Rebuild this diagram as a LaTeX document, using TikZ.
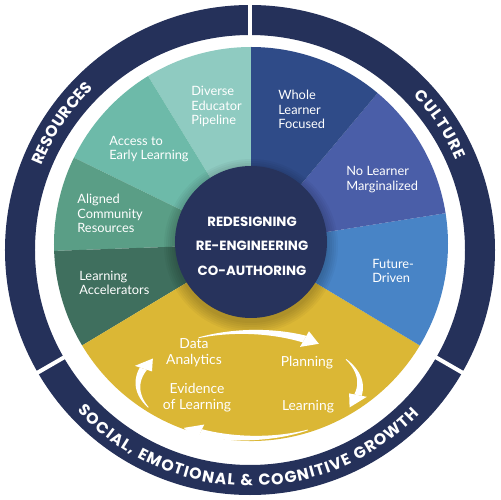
\documentclass[tikz,border=0pt]{standalone}
\usepackage{fontspec}
\setmainfont{Lato}
\newfontfamily\headfont{Poppins}
\usetikzlibrary{decorations.text}

\definecolor{ringnavy}{HTML}{25315A}
\definecolor{hubnavy}{HTML}{27335C}
\definecolor{tealA}{HTML}{8FCBC1}
\definecolor{tealB}{HTML}{6DBAA9}
\definecolor{tealC}{HTML}{5A9E86}
\definecolor{tealD}{HTML}{3F6F5E}
\definecolor{blueA}{HTML}{2F4B88}
\definecolor{blueB}{HTML}{4A5EA8}
\definecolor{blueC}{HTML}{4884C6}
\definecolor{goldY}{HTML}{DBB735}

% tapered white arrow on the cycle ellipse: start, head base, tip angle
\newcommand\cyclearrow[3]{%
  \fill[white] plot[domain=0:1, samples=30, variable=\p]
      ({-1+(111.4+3.4*\p)*cos((#1)+((#2)-(#1))*\p)}, {-135+(53.4+3.4*\p)*sin((#1)+((#2)-(#1))*\p)})
    -- plot[domain=0:1, samples=30, variable=\p]
      ({-1+(107.2+3.4*\p)*cos((#2)+((#1)-(#2))*\p)}, {-135+(49.2+3.4*\p)*sin((#2)+((#1)-(#2))*\p)})
    -- cycle;
  \fill[white] ({-1+120*cos(#2)},{-135+62*sin(#2)})
    -- ({-1+111*cos(#3)},{-135+53*sin(#3)})
    -- ({-1+102*cos(#2)},{-135+44*sin(#2)}) -- cycle;
}

\tikzset{
  segtext/.style={text=white, font=\fontsize{7.3}{8.2}\selectfont, align=left, inner sep=0pt, anchor=west},
  cycletext/.style={text=white, font=\fontsize{7.9}{9.1}\selectfont, align=center, inner sep=0pt},
  hubtext/.style={text=white, font=\headfont\bfseries\fontsize{7.6}{13.9}\selectfont, align=center, inner sep=0pt},
}

\begin{document}
\begin{tikzpicture}[x=0.02cm, y=0.02cm]
  \useasboundingbox (-250,-250) rectangle (250,250);
  \coordinate (ring) at (0,0);
  \coordinate (wheel) at (1,6);
  \coordinate (hub) at (1,8);

  % Drawing outer ring
  \fill[ringnavy, even odd rule] (ring) circle (245) (ring) circle (215);
  \foreach \a in {90,210,330}
    \draw[white, line width=0.08cm] (\a:212) -- (\a:248);

  % Ring texts
  \path[decorate, decoration={text along path, text color=white, text align=fit to path,
      text={|\headfont\bfseries\fontsize{9}{10}\selectfont|RESOURCES}}]
    (158:225) arc[start angle=158, end angle=134, radius=225];
  \path[decorate, decoration={text along path, text color=white, text align=fit to path,
      text={|\headfont\bfseries\fontsize{9}{10}\selectfont|CULTURE}}]
    (43.5:225) arc[start angle=43.5, end angle=23.5, radius=225];
  \path[decorate, decoration={text along path, text color=white, text align=fit to path,
      text={|\headfont\bfseries\fontsize{9}{10}\selectfont|SOCIAL, EMOTIONAL {\&} COGNITIVE GROWTH}}]
    (223:236) arc[start angle=223, end angle=316, radius=236];

  % Drawing wheel sectors
  \foreach \s/\e/\c in {90/121.5/tealA, 121.5/154/tealB, 154/182/tealC, 182/211/tealD,
                        211/329/goldY, 329/369/blueC, 9/50/blueB, 50/90/blueA}
    \fill[\c] (wheel) -- ++(\s:197) arc[start angle=\s, end angle=\e, radius=197] -- cycle;

  % Shadow and hub
  \foreach \r in {77,79,...,87}
    \fill[black, opacity=0.035] (1,4) circle (\r);
  \fill[hubnavy] (hub) circle (76);
  \node[hubtext] (hubtitle) at (2,4) {REDESIGNING\\RE-ENGINEERING\\CO-AUTHORING};

  % Sector labels
  \node[segtext] (pipeline) at (-59,143.5) {Diverse\\Educator\\Pipeline};
  \node[segtext] (early) at (-141,101) {Access to\\Early Learning};
  \node[segtext] (community) at (-173,36.5) {Aligned\\Community\\Resources};
  \node[segtext] (accel) at (-171,-33) {Learning\\Accelerators};
  \node[segtext] (whole) at (28,140.5) {Whole\\Learner\\Focused};
  \node[segtext] (marginal) at (96,70.5) {No Learner\\Marginalized};
  \node[segtext] (future) at (122,-21) {Future-\\Driven};

  % Cycle labels and arrows
  \node[cycletext] (data) at (-56,-103) {Data\\Analytics};
  \node[cycletext] (planning) at (57,-113) {Planning};
  \node[cycletext] (learning) at (58,-157) {Learning};
  \node[cycletext] (evidence) at (-53,-148) {Evidence\\of Learning};
  \cyclearrow{117}{60}{51}
  \cyclearrow{29}{-11}{-25}
  \cyclearrow{-58}{-116}{-126}
  \cyclearrow{205}{162}{150}
\end{tikzpicture}
\end{document}
